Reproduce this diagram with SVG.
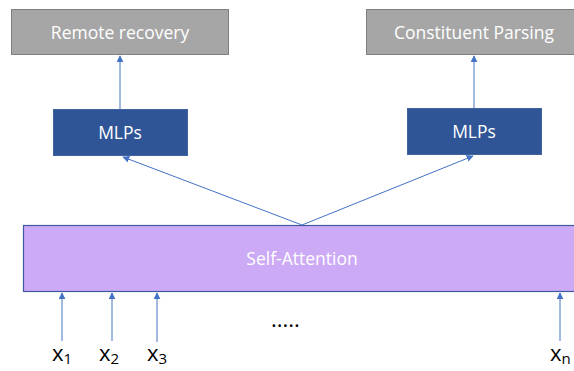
<svg xmlns="http://www.w3.org/2000/svg" width="574" height="371" viewBox="0 0 574 371">
<defs>
<style>
.task{fill:#a6a6a6;stroke:#7f7f7f;stroke-width:1}
.mlp{fill:#2f5597;stroke:#41649f;stroke-width:1}
.att{fill:#cdaaf5;stroke:#3d5a9e;stroke-width:1.2}
.lbl{font-family:"Open Sans","Liberation Sans",sans-serif;fill:#ffffff;text-anchor:middle;font-size:17.5px}
.in{font-family:"Open Sans","Liberation Sans",sans-serif;fill:#000000;font-size:22px}
.sub{font-size:15px}
.conn line{stroke:#4472c4;stroke-width:1;marker-end:url(#ah)}
</style>
<marker id="ah" viewBox="0 0 10 10" refX="9" refY="5" markerWidth="7" markerHeight="7" markerUnits="userSpaceOnUse" orient="auto">
<path d="M0,0 L10,5 L0,10 z" fill="#4472c4"/>
</marker>
</defs>
<rect width="574" height="371" fill="#ffffff"/>
<g id="remote-recovery">
<rect class="task" x="11.5" y="9.5" width="217" height="45"/>
<text class="lbl" x="120" y="39">Remote recovery</text>
</g>
<g id="constituent-parsing">
<rect class="task" x="366.5" y="9.5" width="210" height="45"/>
<text class="lbl" x="474" y="39">Constituent Parsing</text>
</g>
<g id="mlps-left">
<rect class="mlp" x="53.5" y="109.5" width="134" height="46"/>
<text class="lbl" x="120" y="139">MLPs</text>
</g>
<g id="mlps-right">
<rect class="mlp" x="407.5" y="108.5" width="134" height="46"/>
<text class="lbl" x="474" y="138">MLPs</text>
</g>
<g id="self-attention">
<rect class="att" x="23.5" y="225.5" width="560" height="66"/>
<text class="lbl" x="302" y="265">Self-Attention</text>
</g>
<g id="inputs">
<text class="in" x="52" y="361">x<tspan class="sub" dy="3">1</tspan></text>
<text class="in" x="99" y="361">x<tspan class="sub" dy="3">2</tspan></text>
<text class="in" x="147" y="361">x<tspan class="sub" dy="3">3</tspan></text>
<text class="in" x="550" y="361">x<tspan class="sub" dy="3">n</tspan></text>
<text class="in" x="271" y="327" font-size="22">.....</text>
</g>
<g class="conn" id="connectors">
<line x1="120" y1="109" x2="120" y2="56"/>
<line x1="474" y1="108" x2="474" y2="56"/>
<line x1="302" y1="225" x2="123" y2="157"/>
<line x1="302" y1="225" x2="473" y2="156"/>
<line x1="62" y1="341" x2="62" y2="293"/>
<line x1="112" y1="341" x2="112" y2="293"/>
<line x1="157" y1="342" x2="157" y2="293"/>
<line x1="560" y1="341" x2="560" y2="293"/>
</g>
</svg>
